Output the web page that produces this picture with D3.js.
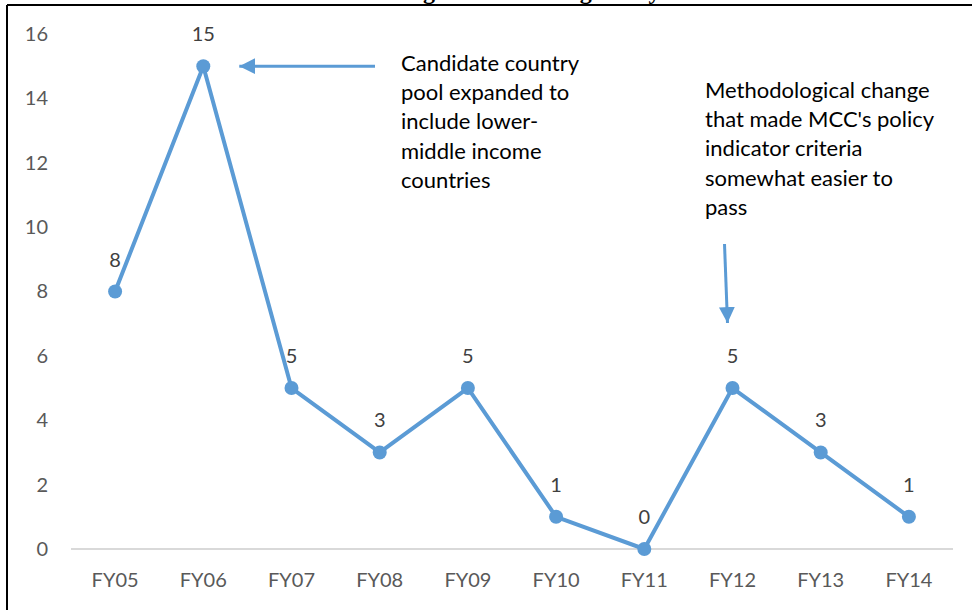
<!DOCTYPE html>
<html>
<head>
<meta charset="utf-8">
<script src="https://cdn.jsdelivr.net/npm/d3@7"></script>
<style>
  html, body { margin: 0; padding: 0; background: #fff; }
  svg { display: block; }
</style>
</head>
<body>
<svg id="chart" width="972" height="610"></svg>
<script>
// Countries newly eligible each fiscal year
const years = ["FY05", "FY06", "FY07", "FY08", "FY09", "FY10", "FY11", "FY12", "FY13", "FY14"];
const counts = [8, 15, 5, 3, 5, 1, 0, 5, 3, 1];
const yTicks = [0, 2, 4, 6, 8, 10, 12, 14, 16];
const title = "Countries Becoming Scorecard Eligible by Year";
const note1 = ["Candidate country", "pool expanded to", "include lower-", "middle income", "countries"];
const note2 = ["Methodological change", "that made MCC's policy", "indicator criteria", "somewhat easier to", "pass"];

const W = 972, H = 610;
const svg = d3.select("#chart");
const font = "Lato, 'Open Sans', sans-serif";
const blue = "#5b9bd5";

// frame
svg.append("line").attr("x1", 7).attr("x2", W).attr("y1", 5).attr("y2", 5)
  .attr("stroke", "#000").attr("stroke-width", 2);
svg.append("line").attr("x1", 7).attr("x2", 7).attr("y1", 5).attr("y2", H)
  .attr("stroke", "#000").attr("stroke-width", 2);

// title, sitting above the frame
svg.append("text").attr("x", 470).attr("y", -1).attr("text-anchor", "middle")
  .attr("font-family", "'Liberation Serif', 'Times New Roman', serif")
  .attr("font-weight", "bold").attr("font-size", 24).text(title);

const x = d3.scaleBand().domain(years).range([71, 953]);
const y = d3.scaleLinear().domain([0, 16]).range([549, 34]);

// baseline
svg.append("line").attr("x1", 71).attr("x2", 953).attr("y1", y(0)).attr("y2", y(0))
  .attr("stroke", "#d9d9d9").attr("stroke-width", 2);

// y tick labels
const yAxis = d3.axisLeft(y).tickValues(yTicks).tickSize(0).tickPadding(0);
const gy = svg.append("g").attr("transform", "translate(48,0)").call(yAxis);
gy.select(".domain").remove();
gy.selectAll("text").attr("font-family", font).attr("font-size", 20).attr("fill", "#595959");

// x tick labels
const xAxis = d3.axisBottom(x).tickSize(0).tickPadding(0);
const gx = svg.append("g").attr("transform", "translate(0,573)").call(xAxis);
gx.select(".domain").remove();
gx.selectAll("text").attr("font-family", font).attr("font-size", 20).attr("fill", "#595959")
  .attr("dy", "0.71em");

const cx = d => x(d) + x.bandwidth() / 2;
const pts = years.map((d, i) => ({ year: d, v: counts[i] }));

svg.append("path").datum(pts)
  .attr("fill", "none").attr("stroke", blue).attr("stroke-width", 4)
  .attr("stroke-linejoin", "round")
  .attr("d", d3.line().x(d => cx(d.year)).y(d => y(d.v)));

svg.selectAll("circle.pt").data(pts).join("circle").attr("class", "pt")
  .attr("cx", d => cx(d.year)).attr("cy", d => y(d.v)).attr("r", 7).attr("fill", blue);

svg.selectAll("text.val").data(pts).join("text").attr("class", "val")
  .attr("x", d => cx(d.year)).attr("y", d => y(d.v) - 32).attr("dy", "0.35em")
  .attr("text-anchor", "middle").attr("font-family", font).attr("font-size", 20)
  .attr("fill", "#404040").text(d => d.v);

// arrowhead
const defs = svg.append("defs");
defs.append("marker").attr("id", "head").attr("viewBox", "0 0 10 10")
  .attr("refX", 10).attr("refY", 5).attr("markerWidth", 5.3).attr("markerHeight", 5.3)
  .attr("markerUnits", "strokeWidth").attr("orient", "auto")
  .append("path").attr("d", "M0,0L10,5L0,10Z").attr("fill", blue);

// note 1: pointing at FY06 peak
const a1y = y(counts[1]);
svg.append("line").attr("x1", 375).attr("y1", a1y).attr("x2", cx("FY06") + 36).attr("y2", a1y)
  .attr("stroke", blue).attr("stroke-width", 3).attr("marker-end", "url(#head)");
svg.append("text").attr("font-family", font).attr("font-size", 22).attr("fill", "#000")
  .selectAll("tspan").data(note1).join("tspan")
  .attr("x", 401).attr("y", (d, i) => 63 + i * 29.3).attr("dy", "0.35em").text(d => d);

// note 2: pointing down at FY12
svg.append("line").attr("x1", cx("FY12") - 8).attr("y1", 244).attr("x2", cx("FY12") - 5).attr("y2", 323)
  .attr("stroke", blue).attr("stroke-width", 3).attr("marker-end", "url(#head)");
svg.append("text").attr("font-family", font).attr("font-size", 22).attr("fill", "#000")
  .selectAll("tspan").data(note2).join("tspan")
  .attr("x", 705).attr("y", (d, i) => 90 + i * 29.3).attr("dy", "0.35em").text(d => d);
</script>
</body>
</html>
